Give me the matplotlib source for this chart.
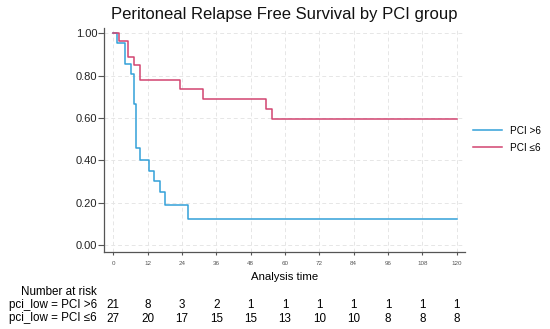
import matplotlib
matplotlib.use('Agg')
import matplotlib.pyplot as plt
from matplotlib.lines import Line2D
from matplotlib.transforms import blended_transform_factory

plt.rcParams['font.family'] = ['Liberation Sans', 'DejaVu Sans']

# Kaplan-Meier step curves
hi_time = [0, 1.2, 4.1, 6.1, 7.2, 7.8, 9.4, 12.5, 14.2, 16.3, 18.1, 26.0, 120]
hi_surv = [1.0, 0.952, 0.857, 0.810, 0.667, 0.457, 0.400, 0.351, 0.300, 0.252, 0.189, 0.123, 0.123]

lo_time = [0, 2.1, 5.3, 7.4, 9.4, 23.3, 31.2, 53.4, 55.4, 120]
lo_surv = [1.0, 0.963, 0.889, 0.852, 0.778, 0.735, 0.690, 0.644, 0.595, 0.595]

# number at risk table
risk_times = [0, 12, 24, 36, 48, 60, 72, 84, 96, 108, 120]
risk_hi = [21, 8, 3, 2, 1, 1, 1, 1, 1, 1, 1]
risk_lo = [27, 20, 17, 15, 15, 13, 10, 10, 8, 8, 8]

labels = ['PCI >6', 'PCI ≤6']
row_labels = ['pci_low = PCI >6', 'pci_low = PCI ≤6']
colors = ['#33a0d8', '#d24470']

W, H = 550, 329
fig = plt.figure(figsize=(W / 100, H / 100), dpi=100)
ax = fig.add_axes([104.3 / W, 1 - 252.3 / H, (465 - 104.3) / W, (252.3 - 28) / H])

ax.step(hi_time, hi_surv, where='post', color=colors[0], lw=1.1)
ax.step(lo_time, lo_surv, where='post', color=colors[1], lw=1.1)

ax.set_xlim(-3.15, 122.9)
ax.set_ylim(-0.0345, 1.025)
ax.set_xticks(risk_times)
ax.set_yticks([0, 0.2, 0.4, 0.6, 0.8, 1.0])
ax.set_yticklabels(['0.00', '0.20', '0.40', '0.60', '0.80', '1.00'])

for s in ['top', 'right']:
    ax.spines[s].set_visible(False)
for s in ['left', 'bottom']:
    ax.spines[s].set_color('#555555')
    ax.spines[s].set_linewidth(0.9)

ax.tick_params(axis='y', length=4.3, width=0.8, color='#555555', pad=0.8, labelsize=8, labelcolor='#222222')
ax.tick_params(axis='x', length=2.2, width=0.8, color='#555555', pad=4.0, labelsize=4.5, labelcolor='#555555')

ax.grid(True, color='#e6e6e6', lw=0.7, ls=(0, (4, 3)))
ax.set_axisbelow(True)

ax.set_title('Peritoneal Relapse Free Survival by PCI group', fontsize=12, pad=6.5, color='#111111')
fig.text(284.6 / W, 1 - 277 / H, 'Analysis time', ha='center', va='center', fontsize=8.2)

# legend outside on the right
handles = [Line2D([], [], color=c, lw=1.1) for c in colors]
fig.legend(handles, labels, loc='upper left', bbox_to_anchor=(473 / W, 1 - 125.5 / H),
           frameon=False, fontsize=7.2, handlelength=2.9, handletextpad=0.75,
           labelspacing=0.7, borderpad=0, borderaxespad=0)

# number at risk
tr = blended_transform_factory(ax.transData, fig.transFigure)
fig.text(97 / W, 1 - 292 / H, 'Number at risk', ha='right', va='center', fontsize=8.4)
for row, (lab, vals) in enumerate(zip(row_labels, [risk_hi, risk_lo])):
    y = 1 - (305 + 13.5 * row) / H
    fig.text(97 / W, y, lab, ha='right', va='center', fontsize=8.4)
    for t, v in zip(risk_times, vals):
        ax.text(t, y, str(v), transform=tr, ha='center', va='center', fontsize=8.4)

fig.savefig('out.png', dpi=100)
